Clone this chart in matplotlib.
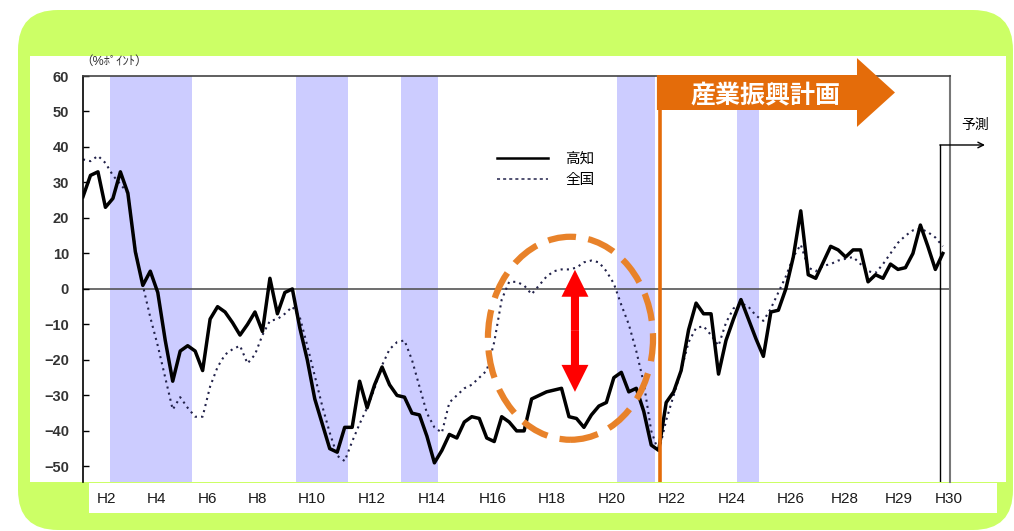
import numpy as np
import matplotlib
matplotlib.use("Agg")
import matplotlib.pyplot as plt
from matplotlib.patches import Rectangle, FancyBboxPatch, FancyArrow, Ellipse
from matplotlib.lines import Line2D
from matplotlib.transforms import IdentityTransform

plt.rcParams['font.family'] = ['Liberation Sans', 'Noto Sans CJK JP', 'DejaVu Sans']

# quarterly DI (% points), first quarter = 1990 Q2
kochi = [26, 32, 33, 23, 25.5, 33, 27, 10.5, 1, 5,
         -1, -14.5, -26, -17.5, -16, -17.5, -23, -8.5, -5, -6.5,
         -9.5, -13, -10, -6.5, -12, 3, -7, -1, 0, -11,
         -20, -31, -38, -45, -46, -39, -39, -26, -33.5, -27,
         -22, -27, -30, -30.5, -35, -35.5, -41.5, -49, -45.5, -41,
         -42, -37.5, -36, -36.5, -42, -43, -36, -37.5, -40, -40,
         -31, -30, -29, -28.5, -28, -36, -36.5, -39, -35.5, -33,
         -32, -25, -23.5, -29, -28, -34.5, -44, -45.5, -32, -29,
         -23, -11.5, -4, -7, -7, -24, -14.5, -8.5, -3, -8.5,
         -14, -19, -6.5, -6, 0, 9, 22, 4, 3, 7.5,
         12, 11, 9, 11, 11, 2, 4, 3, 7, 5.5,
         6, 10, 18, 12, 5.5, 10]
national = [36.5, 36, 37.5, 35.5, 32, 29.5, 27, 11, 1, -8,
            -16, -25, -34, -30.5, -33.5, -36, -36, -27.5, -22, -18.5,
            -17, -16, -21, -18.5, -13, -9, -8.5, -7, -5, -8,
            -16, -24.5, -33, -40.5, -47, -48.5, -43, -38, -33.5, -28,
            -21.5, -17, -15, -14.5, -20, -27.5, -35, -39, -40.5, -32,
            -30, -28, -27, -25, -23, -15, -3, 2, 2, 1,
            -1.5, 1, 3.5, 5, 5.5, 5.5, 6, 7.5, 8, 7.5,
            5, 1.5, -4.5, -10, -17.5, -26.5, -40, -46, -37, -30,
            -23, -15, -11, -10.5, -13, -16, -9.5, -5.5, -4, -5,
            -7.5, -9, -5.5, -1, 3.5, 9, 12.5, 6, 5, 6.5,
            7, 8, 8.5, 9, 7, 5, 4.5, 7, 10, 13,
            15, 16.5, 17, 16, 14.5, 12]
start_year = 1990.25

# recession periods (shaded)
band_start = [1991.15, 1997.37, 2000.88, 2008.10, 2012.12]
band_end = [1993.90, 1999.11, 2002.12, 2009.37, 2012.85]

tick_pos = [1991.02, 1992.72, 1994.40, 1996.10, 1997.91, 1999.91, 2001.92, 2003.96,
            2005.93, 2007.94, 2009.95, 2011.95, 2013.92, 2015.73, 2017.53, 2019.20]
tick_labels = ["H2", "H4", "H6", "H8", "H10", "H12", "H14", "H16",
               "H18", "H20", "H22", "H24", "H26", "H28", "H29", "H30"]

plan_start = 2009.54
plan_tip = 2017.40
forecast_start = 2018.90
forecast_end = 2020.41
ORANGE = '#e46c0a'

quarters = start_year + 0.25 * np.arange(len(kochi))

fig = plt.figure(figsize=(10.14, 5.31), dpi=100)
fig.patch.set_facecolor('white')

# backgrounds, in pixels (origin lower left)
fig.add_artist(FancyBboxPatch((18, 1), 995, 520, boxstyle="round,pad=0,rounding_size=40",
                              transform=IdentityTransform(), facecolor='#ccff66',
                              edgecolor='none', zorder=-3))
fig.add_artist(Rectangle((30, 49), 976, 426, transform=IdentityTransform(),
                         facecolor='white', edgecolor='none', zorder=-2))
fig.add_artist(Rectangle((89, 18), 908, 30, transform=IdentityTransform(),
                         facecolor='white', edgecolor='none', zorder=-1))

ax = fig.add_axes([83 / 1014, 49 / 531, 867 / 1014, 406 / 531])
ax.set_xlim(1990.25, 2019.24)
ax.set_ylim(-54.4, 60)

for s, e in zip(band_start, band_end):
    ax.axvspan(s, e, color='#ccccff', lw=0, zorder=0)
ax.axhline(0, color='#555555', lw=1.2, zorder=1)

ax.plot(quarters, national, color='#22224a', lw=1.5, ls=(0, (1, 2)), zorder=2)
ax.plot(quarters, kochi, color='black', lw=2.5, zorder=3)

handles = [Line2D([], [], color='black', lw=1.8),
           Line2D([], [], color='#22224a', lw=1.1, ls=(0, (2, 2)))]
ax.legend(handles, ['高知', '全国'], loc='upper left', bbox_to_anchor=(0.462, 0.845),
          frameon=False, fontsize=10.5, handlelength=3.5, handletextpad=1.2, labelspacing=0.5)

# industry promotion plan
ax.axvline(plan_start, 0, 0.92, color=ORANGE, lw=2.6, zorder=4)
ax.add_patch(FancyArrow(plan_start - 0.1, 55.35, plan_tip - plan_start + 0.1, 0, width=9.86,
                        head_width=19.4, head_length=1.27, length_includes_head=True,
                        color=ORANGE, lw=0, clip_on=False, zorder=5))
ax.text(2013.08, 54.6, '産業振興計画', color='white', fontsize=18, fontweight='bold',
        ha='center', va='center', family=['Noto Sans CJK JP'], zorder=6)

# gap highlight
ax.add_patch(Ellipse((2006.55, -13.9), 5.52, 57.2, fill=False, edgecolor='#e8822a',
                     lw=4.5, ls=(0, (4.5, 2)), zorder=5))
mid = (5.4 + -29) / 2
for tip in [5.4, -29]:
    ax.add_patch(FancyArrow(2006.7, mid, 0, tip - mid, width=0.27, head_width=0.9,
                            head_length=7.6, length_includes_head=True,
                            color='red', lw=0, zorder=6))

# forecast marker
ax.axvline(forecast_start, 0, 0.83, color='black', lw=1, zorder=4)
ax.annotate('', xy=(forecast_end, 40.56), xytext=(forecast_start, 40.56),
            arrowprops=dict(arrowstyle='->', lw=1, color='black', shrinkA=0, shrinkB=0),
            annotation_clip=False)
ax.text(2020.07, 46.2, '予測', fontsize=10, ha='center', va='center', clip_on=False)

ax.spines['bottom'].set_visible(False)
ax.spines['left'].set_color('black')
ax.spines['left'].set_linewidth(1.2)
ax.spines['top'].set_color('#444444')
ax.spines['top'].set_linewidth(1.2)
ax.spines['right'].set_color('#777777')
ax.spines['right'].set_linewidth(1.5)

ax.set_yticks(range(-50, 61, 10))
ax.tick_params(axis='y', direction='in', length=4, width=1, pad=10,
               labelsize=10.5, labelcolor='#333333')
for lbl in ax.get_yticklabels():
    lbl.set_fontweight('bold')
ax.set_xticks(tick_pos, tick_labels)
ax.tick_params(axis='x', length=0, pad=7, labelsize=11, labelcolor='#1a1a1a')

fig.text(0.079, 0.883, '（%ﾎﾟｲﾝﾄ）', fontsize=9, ha='left', va='center', color='#333333')

fig.savefig('out.png', dpi=100, facecolor='white')
